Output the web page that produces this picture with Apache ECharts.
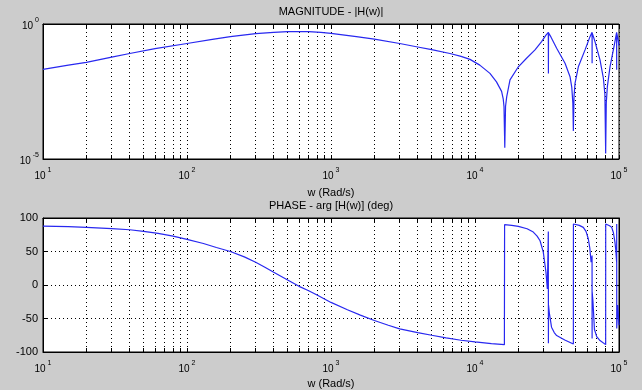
<!DOCTYPE html>
<html><head><meta charset="utf-8">
<script src="https://cdn.jsdelivr.net/npm/echarts@6/dist/echarts.min.js"></script>
<style>html,body{margin:0;padding:0;background:#cccccc}#c{width:642px;height:390px}</style>
</head><body><div id="c"></div>
<script>
// ---- data ----
const decadeTicks = [10, 100, 1000, 10000, 100000];
const gridTicks = [10,20,30,40,50,60,70,80,90,100,200,300,400,500,600,700,800,900,1000,2000,3000,4000,5000,6000,7000,8000,9000,10000,20000,30000,40000,50000,60000,70000,80000,90000,100000];
const magTickLabels = [0.00001, 1];
const phaseTicks = [-100, -50, 0, 50, 100];

const magFreq = [10,15,20,30,40,60,100,150,200,300,400,500,600,700,850,1000,1500,2000,3000,4000,5000,6700,8000,9230,10800,12700,14100,15300,15700,15900,16100,16300,16600,17500,20000,22800,26100,29000,31100,32300,32350,32400,33600,36900,42200,45700,47000,47800,48200,48700,49500,52200,58100,62900,65000,65050,65100,68100,73800,77900,79800,80800,81600,83000,86600,92300,96300,96350,96400,98400,100000];
const magValue = [0.021,0.030,0.038,0.059,0.081,0.123,0.19,0.27,0.34,0.437,0.49,0.52,0.525,0.525,0.49,0.447,0.34,0.275,0.19,0.141,0.112,0.081,0.063,0.049,0.030,0.0148,0.0072,0.0032,0.0017,0.00087,0.000026,0.0009,0.002,0.0085,0.026,0.054,0.11,0.224,0.39,0.49,0.0148,0.47,0.34,0.126,0.035,0.0112,0.0045,0.0012,0.00011,0.002,0.0063,0.026,0.11,0.34,0.49,0.035,0.47,0.224,0.047,0.0098,0.0025,0.000016,0.0012,0.0048,0.026,0.145,0.49,0.02,0.47,0.275,0.158];

const phaseFreq = [10,15,20,30,40,50,63,80,100,130,160,200,250,300,350,400,500,600,700,800,1000,1300,1600,2000,2500,3000,4000,5000,6300,8000,10000,13000,16000,16050,18000,20000,23000,25400,27000,28300,29800,31100,31800,32300,32350,32400,32800,34000,35500,36900,42000,48200,48250,53000,56500,59000,61200,62700,64000,65000,65050,65100,66000,67500,70000,73800,80800,80850,86000,89000,91500,93700,95000,96300,96400,96450,98000,100000];
const phaseValue = [88,87,86,84,82.5,80,77,73,68,62,56,50,42,34,26,19,7.5,-2,-8.5,-15,-26,-37,-45,-53,-60,-65.5,-71,-75,-79,-82.5,-85,-87.5,-89,90,89,87.6,84,79,73,66,49,19,-6,80,-87,-30,-41,-63,-71,-75.5,-82,-88,91,89,86,80,69,55,34,44,-80,-10,-26,-66,-77,-83,-89,91,88.5,86,78,64,52,34,91,-65,-30,-60];

// ---- chart ----
const FONT = 'Liberation Sans';
const chart = echarts.init(document.getElementById('c'), null, {renderer: 'canvas'});
const supFmt = v => '{b|10}{s|' + Math.round(Math.log10(v)) + '}';
const rich = {
  b: {fontSize: 10, fontFamily: FONT, color: '#000', verticalAlign: 'bottom'},
  s: {fontSize: 7, fontFamily: FONT, color: '#000', verticalAlign: 'bottom', padding: [0, 0, 7, 2]}
};
const dotted = {show: true, lineStyle: {color: '#000', width: 1, type: [1, 3]}};
const blk = {color: '#000', width: 1};

function xAx(gridIndex, pos, main) {
  return {
    type: 'log', logBase: 10, gridIndex: gridIndex, position: pos, min: 10, max: 100000,
    name: main ? 'w (Rad/s)' : '', nameLocation: 'middle', nameGap: gridIndex === 0 ? 28 : 26,
    nameTextStyle: {fontFamily: FONT, fontSize: 11, color: '#000'},
    axisLine: {show: true, onZero: false, lineStyle: blk},
    axisTick: {show: true, inside: true, length: 4, customValues: gridTicks, lineStyle: blk},
    minorTick: {show: false},
    splitLine: main ? dotted : {show: false},
    axisLabel: main ? {show: true, customValues: decadeTicks, formatter: supFmt, rich: rich, margin: 8} : {show: false}
  };
}

const option = {
  backgroundColor: '#cccccc',
  animation: false,
  grid: [
    {left: 43, top: 24, width: 576, height: 135, show: true, backgroundColor: '#ffffff', borderColor: '#000', borderWidth: 1},
    {left: 43, top: 218, width: 576, height: 134, show: true, backgroundColor: '#ffffff', borderColor: '#000', borderWidth: 1}
  ],
  xAxis: [xAx(0, 'bottom', true), xAx(1, 'bottom', true), xAx(0, 'top', false), xAx(1, 'top', false)],
  yAxis: [
    {type: 'log', logBase: 10, gridIndex: 0, min: 0.00001, max: 1,
     axisLine: {show: true, lineStyle: blk}, axisTick: {show: false}, splitLine: {show: false}, minorTick: {show: false},
     axisLabel: {customValues: magTickLabels, formatter: supFmt, rich: rich, margin: 4}},
    {type: 'value', gridIndex: 1, min: -100, max: 100, interval: 50,
     axisLine: {show: true, onZero: false, lineStyle: blk},
     axisTick: {show: true, inside: true, length: 4, lineStyle: blk},
     splitLine: dotted,
     axisLabel: {fontFamily: FONT, fontSize: 11, color: '#000', margin: 5, customValues: phaseTicks}},
    {type: 'value', gridIndex: 1, position: 'right', min: -100, max: 100, interval: 50,
     axisLine: {show: true, onZero: false, lineStyle: blk},
     axisTick: {show: true, inside: true, length: 4, lineStyle: blk},
     splitLine: {show: false}, axisLabel: {show: false}}
  ],
  graphic: [
    {type: 'text', x: 331, y: 12, style: {text: 'MAGNITUDE - |H(w)|', font: '11px "Liberation Sans"', fill: '#000', textAlign: 'center', textVerticalAlign: 'middle'}},
    {type: 'text', x: 331, y: 206, style: {text: 'PHASE - arg [H(w)] (deg)', font: '11px "Liberation Sans"', fill: '#000', textAlign: 'center', textVerticalAlign: 'middle'}}
  ],
  series: [
    {type: 'line', xAxisIndex: 0, yAxisIndex: 0, showSymbol: false, smooth: false,
     lineStyle: {color: '#2828f0', width: 1.2},
     data: magFreq.map((f, i) => [f, magValue[i]])},
    {type: 'line', xAxisIndex: 1, yAxisIndex: 1, showSymbol: false, smooth: false,
     lineStyle: {color: '#2828f0', width: 1.2},
     data: phaseFreq.map((f, i) => [f, phaseValue[i]])}
  ]
};
chart.setOption(option);
</script>
</body></html>
